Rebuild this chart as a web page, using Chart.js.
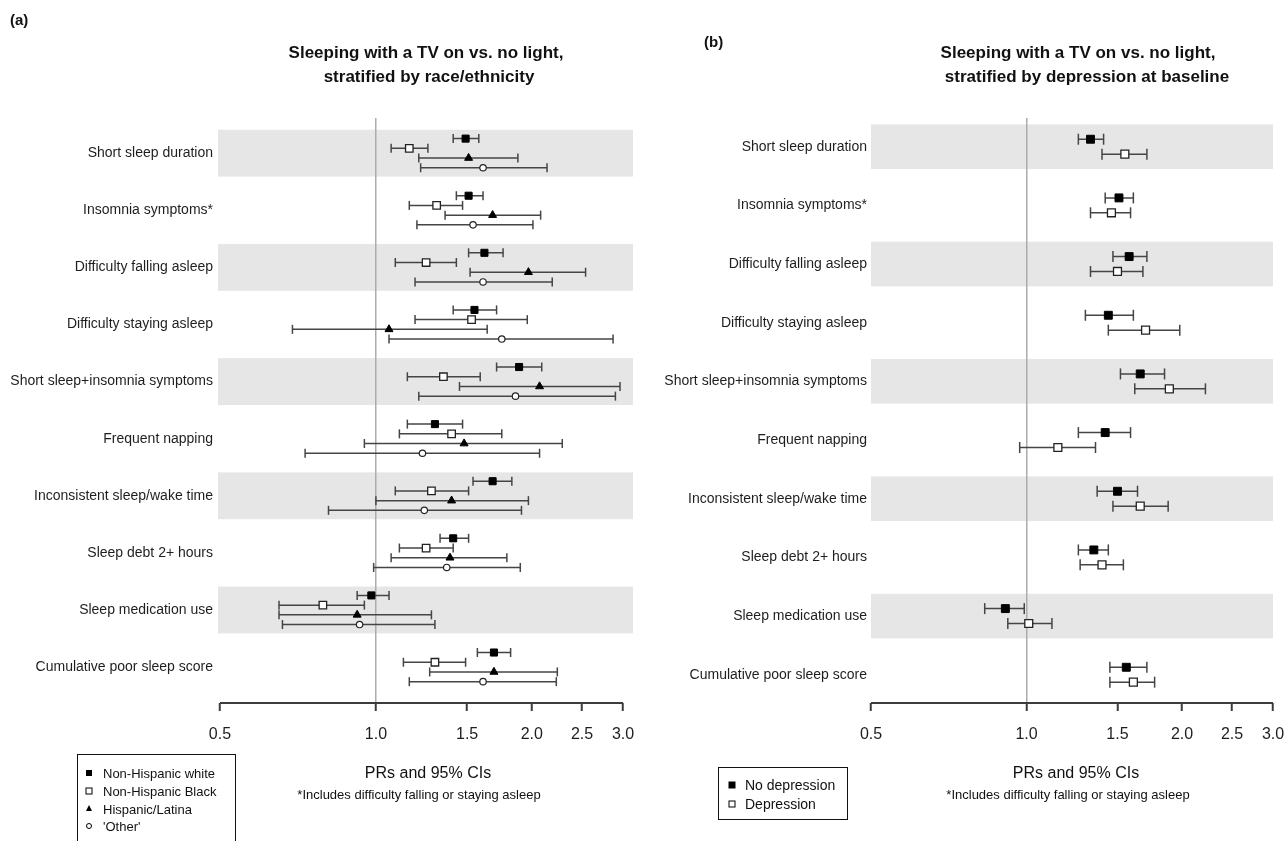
<!DOCTYPE html>
<html><head><meta charset="utf-8">
<script src="https://cdn.jsdelivr.net/npm/chart.js@4.4.1/dist/chart.umd.min.js"></script>
<style>
html,body{margin:0;padding:0;background:#fff;overflow:hidden;width:1287px;height:841px;}
body{position:relative;font-family:Arial,"Liberation Sans",sans-serif;color:#111;}
canvas{position:absolute;top:0;}
.c{position:absolute;white-space:nowrap;line-height:1;transform:translate(-50%,-50%);}
.l{position:absolute;white-space:nowrap;line-height:1;transform:translate(0,-50%);}
.box{position:absolute;border:1.5px solid #111;box-sizing:border-box;}
.sym{position:absolute;transform:translate(-50%,-50%);box-sizing:border-box;}
</style></head><body>
<canvas id="ca" width="650" height="841" style="left:0"></canvas>
<canvas id="cb" width="637" height="841" style="left:650px"></canvas>

<div class="l" style="left:10px;top:19px;font-weight:bold;font-size:15px;">(a)</div>
<div class="l" style="left:704px;top:41px;font-weight:bold;font-size:15px;">(b)</div>
<div class="c" style="left:426px;top:52px;font-weight:bold;font-size:17px;">Sleeping with a TV on vs. no light,</div>
<div class="c" style="left:429px;top:76px;font-weight:bold;font-size:17px;">stratified by race/ethnicity</div>
<div class="c" style="left:1078px;top:52px;font-weight:bold;font-size:17px;">Sleeping with a TV on vs. no light,</div>
<div class="c" style="left:1087px;top:76px;font-weight:bold;font-size:17px;">stratified by depression at baseline</div>

<div class="c" style="left:428px;top:773px;font-size:16px;">PRs and 95% CIs</div>
<div class="c" style="left:419px;top:794px;font-size:13px;">*Includes difficulty falling or staying asleep</div>
<div class="c" style="left:1076px;top:773px;font-size:16px;">PRs and 95% CIs</div>
<div class="c" style="left:1068px;top:794px;font-size:13px;">*Includes difficulty falling or staying asleep</div>

<div class="box" style="left:77px;top:754px;width:159px;height:100px;"></div>
<div class="sym" style="left:89px;top:773px;width:6px;height:6px;background:#000;"></div>
<div class="l" style="left:103px;top:773px;font-size:13px;" id="lg0"></div>
<div class="sym" style="left:89px;top:791px;width:7px;height:7px;border:1px solid #000;"></div>
<div class="l" style="left:103px;top:791px;font-size:13px;" id="lg1"></div>
<div class="sym" style="left:89px;top:808px;width:0;height:0;border-left:3.5px solid transparent;border-right:3.5px solid transparent;border-bottom:6px solid #000;"></div>
<div class="l" style="left:103px;top:808.5px;font-size:13px;" id="lg2"></div>
<div class="sym" style="left:89px;top:826px;width:6px;height:6px;border:1px solid #000;border-radius:50%;"></div>
<div class="l" style="left:103px;top:826px;font-size:13px;" id="lg3"></div>

<div class="box" style="left:718px;top:767px;width:130px;height:53px;"></div>
<div class="sym" style="left:732px;top:785px;width:7px;height:7px;background:#000;"></div>
<div class="l" style="left:745px;top:785px;font-size:14px;" id="lgb0"></div>
<div class="sym" style="left:732px;top:804px;width:7px;height:7px;border:1px solid #000;"></div>
<div class="l" style="left:745px;top:804px;font-size:14px;" id="lgb1"></div>

<script>
const categories = ["Short sleep duration","Insomnia symptoms*","Difficulty falling asleep","Difficulty staying asleep","Short sleep+insomnia symptoms","Frequent napping","Inconsistent sleep/wake time","Sleep debt 2+ hours","Sleep medication use","Cumulative poor sleep score"];
const xTicks = [0.5, 1.0, 1.5, 2.0, 2.5, 3.0];

// Panel (a): race/ethnicity
const raceSeries = ["Non-Hispanic white","Non-Hispanic Black","Hispanic/Latina","'Other'"];
const nhwEst = [1.49,1.51,1.62,1.55,1.89,1.30,1.68,1.41,0.98,1.69];
const nhwLo  = [1.41,1.43,1.51,1.41,1.71,1.15,1.54,1.33,0.92,1.57];
const nhwHi  = [1.58,1.61,1.76,1.71,2.09,1.47,1.83,1.51,1.06,1.82];
const nhbEst = [1.16,1.31,1.25,1.53,1.35,1.40,1.28,1.25,0.79,1.30];
const nhbLo  = [1.07,1.16,1.09,1.19,1.15,1.11,1.09,1.11,0.65,1.13];
const nhbHi  = [1.26,1.47,1.43,1.96,1.59,1.75,1.51,1.41,0.95,1.49];
const hisEst = [1.51,1.68,1.97,1.06,2.07,1.48,1.40,1.39,0.92,1.69];
const hisLo  = [1.21,1.36,1.52,0.69,1.45,0.95,1.00,1.07,0.65,1.27];
const hisHi  = [1.88,2.08,2.54,1.64,2.96,2.29,1.97,1.79,1.28,2.24];
const othEst = [1.61,1.54,1.61,1.75,1.86,1.23,1.24,1.37,0.93,1.61];
const othLo  = [1.22,1.20,1.19,1.06,1.21,0.73,0.81,0.99,0.66,1.16];
const othHi  = [2.14,2.01,2.19,2.87,2.90,2.07,1.91,1.90,1.30,2.23];

// Panel (b): depression at baseline
const depSeries = ["No depression","Depression"];
const noDepEst = [1.33,1.51,1.58,1.44,1.66,1.42,1.50,1.35,0.91,1.56];
const noDepLo  = [1.26,1.42,1.47,1.30,1.52,1.26,1.37,1.26,0.83,1.45];
const noDepHi  = [1.41,1.61,1.71,1.61,1.85,1.59,1.64,1.44,0.99,1.71];
const depEst   = [1.55,1.46,1.50,1.70,1.89,1.15,1.66,1.40,1.01,1.61];
const depLo    = [1.40,1.33,1.33,1.44,1.62,0.97,1.47,1.27,0.92,1.45];
const depHi    = [1.71,1.59,1.68,1.98,2.22,1.36,1.88,1.54,1.12,1.77];

raceSeries.forEach((s,i)=>document.getElementById('lg'+i).textContent=s);
depSeries.forEach((s,i)=>document.getElementById('lgb'+i).textContent=s);

const FONT = 'Arial, "Liberation Sans", sans-serif';

function estData(est, off){ return est.map((v,i)=>({x:v, y:i+1+off})); }
function ciData(lo, hi, off){
  const d=[];
  lo.forEach((l,i)=>{ const y=i+1+off; d.push({x:l,y:y},{x:hi[i],y:y},{x:hi[i],y:null}); });
  return d;
}

const panelPlugin = {
  id:'panel',
  beforeDraw(chart, args, o){
    const {ctx, chartArea:a, scales:{y}} = chart;
    ctx.save();
    ctx.fillStyle = '#e6e6e6';
    categories.forEach((c,i)=>{
      if(i%2!==0) return;
      const t = y.getPixelForValue(i+1-o.half), b = y.getPixelForValue(i+1+o.half);
      ctx.fillRect(a.left, Math.min(t,b), a.right-a.left, Math.abs(b-t));
    });
    ctx.restore();
  },
  afterDraw(chart, args, o){
    const {ctx, chartArea:a, scales:{x}} = chart;
    ctx.save();
    ctx.strokeStyle='#3c3c3c'; ctx.lineWidth=2;
    ctx.beginPath();
    ctx.moveTo(x.getPixelForValue(xTicks[0]), a.bottom);
    ctx.lineTo(x.getPixelForValue(xTicks[xTicks.length-1]), a.bottom);
    ctx.stroke();
    ctx.restore();
  }
};

function makeChart(id, p){
  const datasets = [];
  p.series.forEach((s,k)=>{
    datasets.push(Object.assign({
      label: s.name, data: estData(s.est, p.offsets[k]), order: 0
    }, s.style));
  });
  p.series.forEach((s,k)=>{
    datasets.push({
      label: s.name+' CI', data: ciData(s.lo, s.hi, p.offsets[k]), order: 1,
      showLine: true, spanGaps: false, borderColor:'#454545', borderWidth:1.5,
      pointStyle:'line', pointRotation:90, pointRadius:p.capR, pointBorderColor:'#454545',
      pointBorderWidth:1.5, pointBackgroundColor:'#454545'
    });
  });
  return new Chart(document.getElementById(id), {
    type:'scatter',
    data:{datasets},
    plugins:[panelPlugin],
    options:{
      responsive:false, animation:false, events:[],
      layout:{padding:{top:118, right:p.padRight, left:0, bottom:0}},
      plugins:{legend:{display:false}, tooltip:{enabled:false}, panel:{half:p.half}},
      scales:{
        x:{
          type:'logarithmic', min:p.xMin, max:p.xMax,
          afterBuildTicks:(sc)=>{ sc.ticks = xTicks.map(v=>({value:v})); },
          afterFit:(sc)=>{ sc.height = 138; sc.paddingLeft = 0; sc.paddingRight = 0; },
          border:{display:false},
          grid:{display:true, drawOnChartArea:true, drawTicks:true, tickLength:8,
                color:(c)=> (c.tick && c.tick.value===1) ? '#acacac' : 'rgba(0,0,0,0)',
                lineWidth:1.5, tickColor:'#3c3c3c', tickWidth:2},
          ticks:{autoSkip:false, maxRotation:0, padding:14, color:'#1e1e1e',
                 font:{family:FONT, size:16},
                 callback:(v)=>Number(v).toFixed(1)}
        },
        y:{
          type:'linear', reverse:true, min:p.yMin, max:p.yMax,
          afterBuildTicks:(sc)=>{ sc.ticks = categories.map((c,i)=>({value:i+1})); },
          afterFit:(sc)=>{ sc.width = p.yWidth; sc.paddingTop = 0; sc.paddingBottom = 0; },
          border:{display:false},
          grid:{display:false, drawTicks:false},
          ticks:{autoSkip:false, padding:p.labelPad, color:'#1e1e1e',
                 font:{family:FONT, size:14},
                 callback:(v)=>categories[Math.round(v)-1]}
        }
      }
    }
  });
}

makeChart('ca', {
  xMin:0.4956, xMax:3.136, yMin:0.384, yMax:10.629, half:0.41,
  offsets:[-0.255,-0.085,0.085,0.255], yWidth:218, padRight:17, labelPad:5, capR:4.5,
  series:[
    {name:raceSeries[0], est:nhwEst, lo:nhwLo, hi:nhwHi,
     style:{pointStyle:'rect', pointRadius:5, pointBackgroundColor:'#000', pointBorderColor:'#000', pointBorderWidth:1}},
    {name:raceSeries[1], est:nhbEst, lo:nhbLo, hi:nhbHi,
     style:{pointStyle:'rect', pointRadius:5.3, pointBackgroundColor:'#fff', pointBorderColor:'#222', pointBorderWidth:1.3}},
    {name:raceSeries[2], est:hisEst, lo:hisLo, hi:hisHi,
     style:{pointStyle:'triangle', pointRadius:4.6, pointBackgroundColor:'#000', pointBorderColor:'#000', pointBorderWidth:1}},
    {name:raceSeries[3], est:othEst, lo:othLo, hi:othHi,
     style:{pointStyle:'circle', pointRadius:3.2, pointBackgroundColor:'#fff', pointBorderColor:'#222', pointBorderWidth:1.2}}
  ]
});

makeChart('cb', {
  xMin:0.5, xMax:3.0, yMin:0.511, yMax:10.482, half:0.38,
  offsets:[-0.127,0.127], yWidth:221, padRight:14, labelPad:4, capR:5.5,
  series:[
    {name:depSeries[0], est:noDepEst, lo:noDepLo, hi:noDepHi,
     style:{pointStyle:'rect', pointRadius:5.6, pointBackgroundColor:'#000', pointBorderColor:'#000', pointBorderWidth:1}},
    {name:depSeries[1], est:depEst, lo:depLo, hi:depHi,
     style:{pointStyle:'rect', pointRadius:5.6, pointBackgroundColor:'#fff', pointBorderColor:'#222', pointBorderWidth:1.3}}
  ]
});
</script>
</body></html>
